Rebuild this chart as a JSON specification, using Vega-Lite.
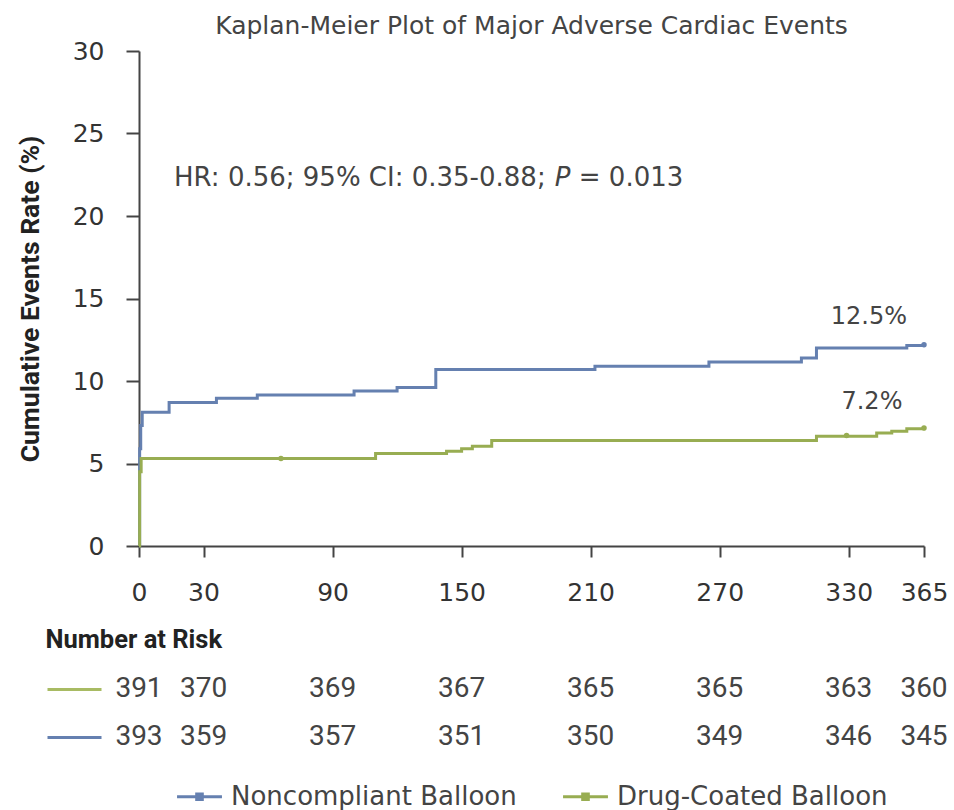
{
  "$schema": "https://vega.github.io/schema/vega-lite/v6.json",
  "background": "white",
  "padding": {"left": 17, "top": 14, "right": 0, "bottom": 0},
  "bounds": "flush",
  "spacing": 119,
  "config": {"view": {"stroke": null}, "font": "DejaVu Sans"},
  "datasets": {
    "km": [
      {"group": "Noncompliant Balloon", "day": 0, "rate": 0},
      {"group": "Noncompliant Balloon", "day": 0.3, "rate": 5.9},
      {"group": "Noncompliant Balloon", "day": 0.8, "rate": 7.3},
      {"group": "Noncompliant Balloon", "day": 1.5, "rate": 8.1},
      {"group": "Noncompliant Balloon", "day": 14, "rate": 8.7},
      {"group": "Noncompliant Balloon", "day": 36, "rate": 8.95},
      {"group": "Noncompliant Balloon", "day": 55, "rate": 9.15},
      {"group": "Noncompliant Balloon", "day": 100, "rate": 9.4},
      {"group": "Noncompliant Balloon", "day": 120, "rate": 9.6},
      {"group": "Noncompliant Balloon", "day": 138, "rate": 10.7},
      {"group": "Noncompliant Balloon", "day": 212, "rate": 10.9},
      {"group": "Noncompliant Balloon", "day": 265, "rate": 11.15},
      {"group": "Noncompliant Balloon", "day": 308, "rate": 11.4},
      {"group": "Noncompliant Balloon", "day": 315, "rate": 12.0},
      {"group": "Noncompliant Balloon", "day": 357, "rate": 12.15},
      {"group": "Noncompliant Balloon", "day": 365, "rate": 12.2},
      {"group": "Drug-Coated Balloon", "day": 0, "rate": 0},
      {"group": "Drug-Coated Balloon", "day": 0.3, "rate": 4.5},
      {"group": "Drug-Coated Balloon", "day": 1, "rate": 5.3},
      {"group": "Drug-Coated Balloon", "day": 110, "rate": 5.6},
      {"group": "Drug-Coated Balloon", "day": 143, "rate": 5.75},
      {"group": "Drug-Coated Balloon", "day": 150, "rate": 5.9},
      {"group": "Drug-Coated Balloon", "day": 155, "rate": 6.05},
      {"group": "Drug-Coated Balloon", "day": 164, "rate": 6.4},
      {"group": "Drug-Coated Balloon", "day": 315, "rate": 6.65},
      {"group": "Drug-Coated Balloon", "day": 343, "rate": 6.85},
      {"group": "Drug-Coated Balloon", "day": 350, "rate": 6.95},
      {"group": "Drug-Coated Balloon", "day": 357, "rate": 7.1},
      {"group": "Drug-Coated Balloon", "day": 365, "rate": 7.15}
    ],
    "censor": [
      {"group": "Drug-Coated Balloon", "day": 66, "rate": 5.3},
      {"group": "Drug-Coated Balloon", "day": 329, "rate": 6.7},
      {"group": "Drug-Coated Balloon", "day": 365, "rate": 7.15},
      {"group": "Noncompliant Balloon", "day": 365, "rate": 12.2}
    ],
    "hr": [
      {"day": 16.3, "rate": 22.3, "label": "HR: 0.56; 95% CI: 0.35-0.88;"},
      {"day": 204.5, "rate": 22.3, "label": "= 0.013"}
    ],
    "hrp": [
      {"day": 193.3, "rate": 22.3, "label": "P"}
    ],
    "ends": [
      {"day": 339.4, "rate": 13.9, "label": "12.5%"},
      {"day": 340.8, "rate": 8.7, "label": "7.2%"}
    ],
    "risk": [
      {"group": "Drug-Coated Balloon", "day": 0, "n": 391},
      {"group": "Drug-Coated Balloon", "day": 30, "n": 370},
      {"group": "Drug-Coated Balloon", "day": 90, "n": 369},
      {"group": "Drug-Coated Balloon", "day": 150, "n": 367},
      {"group": "Drug-Coated Balloon", "day": 210, "n": 365},
      {"group": "Drug-Coated Balloon", "day": 270, "n": 365},
      {"group": "Drug-Coated Balloon", "day": 330, "n": 363},
      {"group": "Drug-Coated Balloon", "day": 365, "n": 360},
      {"group": "Noncompliant Balloon", "day": 0, "n": 393},
      {"group": "Noncompliant Balloon", "day": 30, "n": 359},
      {"group": "Noncompliant Balloon", "day": 90, "n": 357},
      {"group": "Noncompliant Balloon", "day": 150, "n": 351},
      {"group": "Noncompliant Balloon", "day": 210, "n": 350},
      {"group": "Noncompliant Balloon", "day": 270, "n": 349},
      {"group": "Noncompliant Balloon", "day": 330, "n": 346},
      {"group": "Noncompliant Balloon", "day": 365, "n": 345}
    ]
  },
  "vconcat": [
    {
      "width": 785,
      "height": 495,
      "title": {"text": "Kaplan-Meier Plot of Major Adverse Cardiac Events", "font": "DejaVu Sans", "fontSize": 25, "fontWeight": "normal", "color": "#444", "anchor": "middle", "offset": 0},
      "encoding": {
        "x": {"field": "day", "type": "quantitative", "scale": {"domain": [0, 365], "nice": false, "zero": false},
          "axis": {"values": [0, 30, 90, 150, 210, 270, 330, 365], "title": null, "grid": false, "labelFont": "DejaVu Sans", "labelFontSize": 25, "labelColor": "#333", "tickSize": 11, "tickWidth": 2, "tickColor": "#444", "domainColor": "#444", "domainWidth": 2, "labelPadding": 23, "labelFlush": false}},
        "y": {"field": "rate", "type": "quantitative", "scale": {"domain": [0, 30], "nice": false},
          "axis": {"values": [0, 5, 10, 15, 20, 25, 30], "title": "Cumulative Events Rate (%)", "titleFont": "Roboto", "titleFontSize": 26.5, "titleFontWeight": "bold", "titleColor": "#222", "titlePadding": 28, "grid": false, "labelFont": "DejaVu Sans", "labelFontSize": 25, "labelColor": "#333", "tickSize": 13, "tickWidth": 2, "tickColor": "#444", "domainColor": "#444", "domainWidth": 2, "labelPadding": 22}}
      },
      "layer": [
        {
          "data": {"name": "km"},
          "mark": {"type": "line", "interpolate": "step-after", "strokeWidth": 3},
          "encoding": {
            "color": {"field": "group", "type": "nominal",
              "scale": {"domain": ["Noncompliant Balloon", "Drug-Coated Balloon"], "range": ["#6580b0", "#98ad52"]},
              "legend": {"orient": "none", "direction": "horizontal", "legendX": 40, "legendY": 725, "title": null, "padding": 0, "labelFont": "DejaVu Sans", "labelFontSize": 26, "labelColor": "#444", "labelLimit": 0, "symbolType": "M-1.2,0H1.2M-0.15,-0.15H0.15V0.15H-0.15Z", "symbolSize": 1400, "symbolStrokeWidth": 3, "labelOffset": 11, "columnPadding": 40}}
          }
        },
        {
          "data": {"name": "censor"},
          "mark": {"type": "point", "filled": true, "size": 30, "opacity": 1},
          "encoding": {"color": {"field": "group", "type": "nominal"}}
        },
        {
          "data": {"name": "hr"},
          "mark": {"type": "text", "align": "left", "baseline": "middle", "font": "DejaVu Sans", "fontSize": 26, "color": "#444"},
          "encoding": {"text": {"field": "label"}}
        },
        {
          "data": {"name": "hrp"},
          "mark": {"type": "text", "align": "left", "baseline": "middle", "font": "DejaVu Sans", "fontStyle": "italic", "fontSize": 26, "color": "#444"},
          "encoding": {"text": {"field": "label"}}
        },
        {
          "data": {"name": "ends"},
          "mark": {"type": "text", "align": "center", "baseline": "middle", "font": "DejaVu Sans", "fontSize": 24, "color": "#444"},
          "encoding": {"text": {"field": "label"}}
        }
      ]
    },
    {
      "width": 785,
      "height": 96,
      "data": {"name": "risk"},
      "title": {"text": "Number at Risk", "anchor": "start", "frame": "bounds", "font": "Roboto", "fontSize": 25.5, "fontWeight": "bold", "color": "#222", "offset": 12},
      "mark": {"type": "text", "align": "center", "baseline": "middle", "font": "Roboto", "fontSize": 28, "color": "#444"},
      "encoding": {
        "x": {"field": "day", "type": "quantitative", "scale": {"domain": [0, 365], "nice": false, "zero": false}, "axis": null},
        "y": {"field": "group", "type": "nominal", "scale": {"type": "point", "domain": ["Drug-Coated Balloon", "Noncompliant Balloon"], "padding": 0.5},
          "axis": {"orient": "left", "offset": 38, "domain": false, "labels": false, "grid": false, "title": null, "tickSize": 54, "tickWidth": 3,
            "tickColor": {"condition": {"test": "datum.value === 'Drug-Coated Balloon'", "value": "#a8bb63"}, "value": "#6580b0"}}},
        "text": {"field": "n", "type": "quantitative"}
      }
    }
  ],
  "resolve": {"scale": {"x": "independent", "y": "independent"}}
}
